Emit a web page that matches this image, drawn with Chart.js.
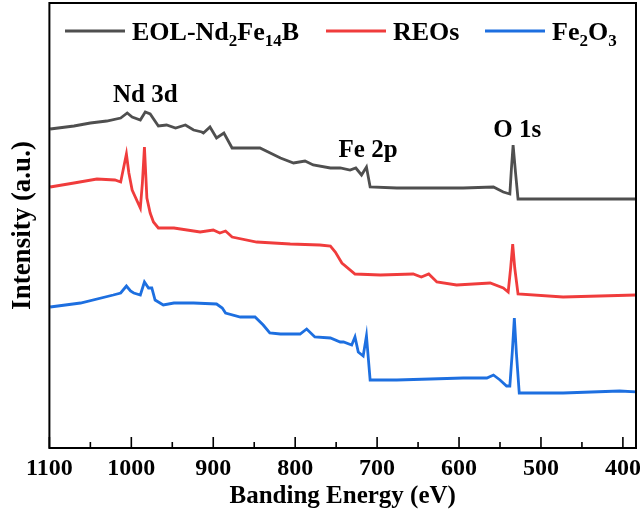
<!DOCTYPE html>
<html>
<head>
<meta charset="utf-8">
<script src="https://cdn.jsdelivr.net/npm/chart.js@4.4.0/dist/chart.umd.min.js"></script>
<style>
  body { margin: 0; background: #fff; }
</style>
</head>
<body>
<canvas id="xps" width="640" height="520"></canvas>
<script>
// survey spectra (intensity in arbitrary units, offset per curve)
const blackEnergy = [1099, 1070, 1050, 1030, 1013, 1005, 999, 989, 983, 977, 967, 957, 946, 934, 924, 914, 912, 904, 896, 887, 877, 867, 843, 818, 802, 788, 778, 757, 745, 733, 726, 719, 713, 708.5, 676, 635, 595, 558, 546, 538, 536, 534, 531, 528, 473, 383];
const blackIntensity = [319, 322, 325, 327, 330, 335, 331, 328, 336, 334, 322, 323, 320, 323, 318, 316, 315, 321, 310, 315, 300, 300, 300, 290, 285, 287, 283, 280, 280, 278, 280, 273, 281, 261, 260, 260, 260, 261, 256, 254, 280, 303, 275, 249, 249, 249];

const redEnergy = [1099, 1070, 1042, 1020, 1013, 1006, 1003, 999, 989, 986.5, 984, 981, 977, 973, 967, 948, 916, 900, 892, 885, 877, 847, 806, 770, 757, 751, 743, 727, 696, 656, 646, 637, 627, 603, 562, 546, 540, 537, 534.5, 532, 528, 473, 383];
const redIntensity = [261, 265, 269, 268, 266, 294, 275, 258, 240, 265, 301, 250, 235, 226, 220, 220, 216, 218, 215, 217, 211, 206, 204, 203, 202, 196, 185, 174, 173, 174, 171, 174, 166, 163, 165, 160, 156, 180, 204, 180, 154, 151, 153];

const blueEnergy = [1099, 1062, 1022, 1013, 1006, 1001, 997, 989, 984, 979, 975, 971, 961, 948, 924, 896, 889, 885, 867, 849, 839, 831, 818, 794, 786, 776, 757, 745, 741, 731, 727, 723, 717, 713, 708.5, 676, 635, 595, 566, 558, 550, 542, 538, 535, 532.5, 530, 526.5, 473, 404, 383];
const blueIntensity = [141, 145, 153, 155, 162, 157, 155, 153, 166, 160, 160, 148, 143, 145, 145, 144, 140, 135, 131, 131, 123, 115, 114, 114, 119, 111, 110, 106, 106, 103, 111, 96, 92, 112, 68, 68, 69, 70, 70, 73, 68, 62, 62, 96, 130, 95, 55, 55, 57, 56];

const majorTicks = [1100, 1000, 900, 800, 700, 600, 500, 400];
const minorTicks = [1050, 950, 850, 750, 650, 550, 450];

// legend names, [text, isSubscript]
const seriesNames = [
  [['EOL-Nd', 0], ['2', 1], ['Fe', 0], ['14', 1], ['B', 0]],
  [['REOs', 0]],
  [['Fe', 0], ['2', 1], ['O', 0], ['3', 1]]
];
const seriesColors = ['#4f4f4f', '#f03c3c', '#1d6fe0'];

const peakLabels = ['Nd 3d', 'Fe 2p', 'O 1s'];
const peakLabelEnergy = [983, 711, 529];
const peakLabelIntensity = [346, 291, 311];

const serif = '"Liberation Serif", "Times New Roman", serif';

function toPoints(xs, ys) {
  return xs.map((v, i) => ({ x: v, y: ys[i] }));
}

function drawParts(ctx, parts, x, y) {
  parts.forEach(([t, sub]) => {
    ctx.font = sub ? 'bold 17px ' + serif : 'bold 26px ' + serif;
    ctx.fillText(t, x, sub ? y + 6 : y);
    x += ctx.measureText(t).width;
  });
}

const framePlugin = {
  id: 'frame',
  afterDraw(chart) {
    const { ctx, chartArea: a, scales: { x, y } } = chart;
    ctx.save();
    ctx.strokeStyle = '#000';
    ctx.lineWidth = 2;
    ctx.strokeRect(a.left, a.top, a.right - a.left, a.bottom - a.top);

    ctx.lineWidth = 1.6;
    ctx.beginPath();
    majorTicks.forEach(v => {
      const px = x.getPixelForValue(v);
      ctx.moveTo(px, a.bottom);
      ctx.lineTo(px, a.bottom - 11);
    });
    minorTicks.forEach(v => {
      const px = x.getPixelForValue(v);
      ctx.moveTo(px, a.bottom);
      ctx.lineTo(px, a.bottom - 6);
    });
    ctx.stroke();

    // legend inside the frame
    ctx.fillStyle = '#000';
    ctx.textBaseline = 'alphabetic';
    ctx.textAlign = 'left';
    const starts = [65, 326, 485];
    const ly = 31;
    seriesNames.forEach((parts, i) => {
      ctx.strokeStyle = seriesColors[i];
      ctx.lineWidth = 3;
      ctx.beginPath();
      ctx.moveTo(starts[i], ly);
      ctx.lineTo(starts[i] + 60, ly);
      ctx.stroke();
      drawParts(ctx, parts, starts[i] + 67, ly + 9);
    });

    // peak labels
    ctx.font = 'bold 25px ' + serif;
    ctx.textAlign = 'center';
    peakLabels.forEach((t, i) => {
      ctx.fillText(t, x.getPixelForValue(peakLabelEnergy[i]), y.getPixelForValue(peakLabelIntensity[i]));
    });
    ctx.restore();
  }
};

new Chart(document.getElementById('xps'), {
  type: 'line',
  data: {
    datasets: [
      { label: 'EOL-Nd2Fe14B', data: toPoints(blackEnergy, blackIntensity), borderColor: seriesColors[0] },
      { label: 'REOs', data: toPoints(redEnergy, redIntensity), borderColor: seriesColors[1] },
      { label: 'Fe2O3', data: toPoints(blueEnergy, blueIntensity), borderColor: seriesColors[2] }
    ]
  },
  options: {
    responsive: false,
    animation: false,
    devicePixelRatio: 1,
    layout: { padding: { left: 4, top: 3, right: 4, bottom: 0 } },
    elements: {
      point: { radius: 0 },
      line: { borderWidth: 2.8, tension: 0 }
    },
    plugins: {
      legend: { display: false },
      tooltip: { enabled: false }
    },
    scales: {
      x: {
        type: 'linear',
        reverse: true,
        min: 384,
        max: 1100,
        afterBuildTicks: ax => { ax.ticks = majorTicks.map(v => ({ value: v })); },
        afterFit: ax => { ax.height = 72; ax.paddingLeft = 0; ax.paddingRight = 0; },
        ticks: {
          padding: 9,
          color: '#000',
          autoSkip: false,
          maxRotation: 0,
          callback: v => String(v),
          font: { family: serif, size: 24, weight: 'bold', lineHeight: 1 }
        },
        grid: { display: false, drawTicks: false },
        border: { display: false },
        title: {
          display: true,
          text: 'Banding Energy (eV)',
          color: '#000',
          font: { family: serif, size: 25, weight: 'bold', lineHeight: 1.2 },
          padding: { top: 2, bottom: 8 }
        }
      },
      y: {
        min: 0,
        max: 445,
        ticks: { display: false },
        grid: { display: false, drawTicks: false },
        border: { display: false },
        title: {
          display: true,
          text: 'Intensity (a.u.)',
          color: '#000',
          font: { family: serif, size: 27, weight: 'bold', lineHeight: 1.2 },
          padding: { top: 3, bottom: 10 }
        }
      }
    }
  },
  plugins: [framePlugin]
});
</script>
</body>
</html>
